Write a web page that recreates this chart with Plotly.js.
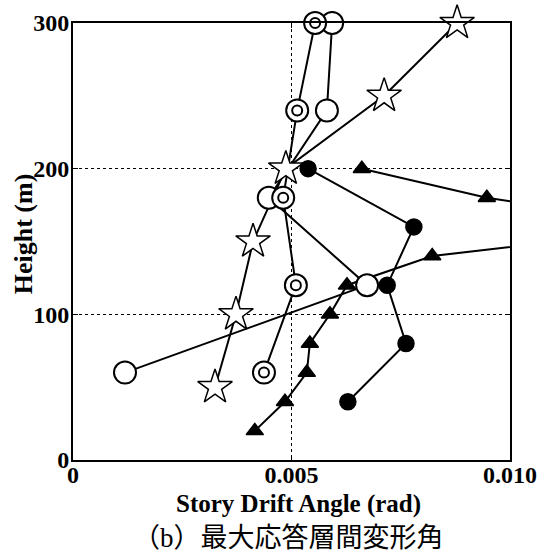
<!DOCTYPE html>
<html>
<head>
<meta charset="utf-8">
<script src="https://cdn.plot.ly/plotly-3.0.1.min.js"></script>
<style>html,body{margin:0;padding:0;background:#fff;}#chart{width:545px;height:554px;}</style>
</head>
<body>
<div id="chart"></div>
<script>
// Heights (m) and story drift angles (rad) for each series
const openCircleHeight = [60, 120, 180, 240, 300];
const openCircleDrift  = [0.00119, 0.00673, 0.00448, 0.00581, 0.00593];

const doubleCircleHeight = [60, 120, 180, 240, 300];
const doubleCircleDrift  = [0.00437, 0.00510, 0.00481, 0.00513, 0.00554];

const starHeight = [50, 100, 150, 200, 250, 300];
const starDrift  = [0.00325, 0.00373, 0.00412, 0.00487, 0.00712, 0.00879];

const filledCircleHeight = [40, 80, 120, 160, 200];
const filledCircleDrift  = [0.00629, 0.00762, 0.00719, 0.00780, 0.00538];

const triangleHeight = [20, 40, 60, 80, 100, 120, 140, 160, 180, 200];
const triangleDrift  = [0.00416, 0.00485, 0.00535, 0.00542, 0.00588, 0.00627, 0.00822, 0.01400, 0.00947, 0.00661];

const xTickVals = [0, 0.005, 0.010];
const xTickText = ['0', '0.005', '0.010'];
const yTickVals = [0, 100, 200, 300];
const yTickText = ['0', '100', '200', '300'];

const xTitle = 'Story Drift Angle (rad)';
const yTitle = 'Height (m)';
const caption = '（b）最大応答層間変形角';

const lineStyle = {color: '#000', width: 2};
function lineTrace(x, y) {
  return {x: x, y: y, type: 'scatter', mode: 'lines', line: lineStyle, hoverinfo: 'skip', showlegend: false};
}
function markerTrace(x, y, symbol, size, fill, lw) {
  return {x: x, y: y, type: 'scatter', mode: 'markers', showlegend: false, cliponaxis: false,
    marker: {symbol: symbol, size: size, color: fill, line: {color: '#000', width: lw}}};
}

const data = [
  lineTrace(openCircleDrift, openCircleHeight),
  lineTrace(doubleCircleDrift, doubleCircleHeight),
  lineTrace(starDrift, starHeight),
  lineTrace(filledCircleDrift, filledCircleHeight),
  lineTrace(triangleDrift, triangleHeight),
  markerTrace(triangleDrift, triangleHeight, 'triangle-up', 15, '#000', 1.5),
  markerTrace(filledCircleDrift, filledCircleHeight, 'circle', 16, '#000', 1.5),
  markerTrace(openCircleDrift, openCircleHeight, 'circle', 22, '#fff', 2),
  markerTrace(doubleCircleDrift, doubleCircleHeight, 'circle', 22, '#fff', 2),
  markerTrace(doubleCircleDrift, doubleCircleHeight, 'circle', 10, '#fff', 2),
  markerTrace(starDrift, starHeight, 'star', 26, '#fff', 1.5)
];

const fontSerif = 'Liberation Serif, Times New Roman, serif';
const axisCommon = {
  showline: true, linecolor: '#000', linewidth: 2, mirror: 'ticks',
  ticks: 'inside', ticklen: 5, tickwidth: 1.5, tickcolor: '#000',
  showgrid: true, gridcolor: '#000', gridwidth: 1.5, griddash: 'dot',
  zeroline: false, tickmode: 'array',
  tickfont: {family: fontSerif, size: 24, color: '#000', weight: 'bold'}
};

const layout = {
  width: 545, height: 554,
  margin: {l: 73, r: 35, t: 23, b: 94},
  paper_bgcolor: '#fff', plot_bgcolor: '#fff',
  xaxis: Object.assign({}, axisCommon, {
    range: [0, 0.010], tickvals: xTickVals, ticktext: xTickText,
    ticklabelstandoff: -8
  }),
  yaxis: Object.assign({}, axisCommon, {
    range: [0, 300], tickvals: yTickVals, ticktext: yTickText,
    ticklabelstandoff: -3
  }),
  annotations: [
    {text: '<b>' + xTitle + '</b>', xref: 'paper', yref: 'paper', x: 0.515, y: -0.1,
     xanchor: 'center', yanchor: 'middle', showarrow: false,
     font: {family: fontSerif, size: 25, color: '#000'}},
    {text: '<b>' + yTitle + '</b>', xref: 'paper', yref: 'paper', x: -0.114, y: 0.517,
     xanchor: 'center', yanchor: 'middle', showarrow: false, textangle: -90,
     font: {family: fontSerif, size: 26, color: '#000'}},
    {text: caption, xref: 'paper', yref: 'paper', x: 0.492, y: -0.178,
     xanchor: 'center', yanchor: 'middle', showarrow: false,
     font: {family: 'Liberation Serif, Noto Sans CJK JP', size: 27, color: '#000'}}
  ]
};

Plotly.newPlot('chart', data, layout, {displayModeBar: false, staticPlot: true});
</script>
</body>
</html>
